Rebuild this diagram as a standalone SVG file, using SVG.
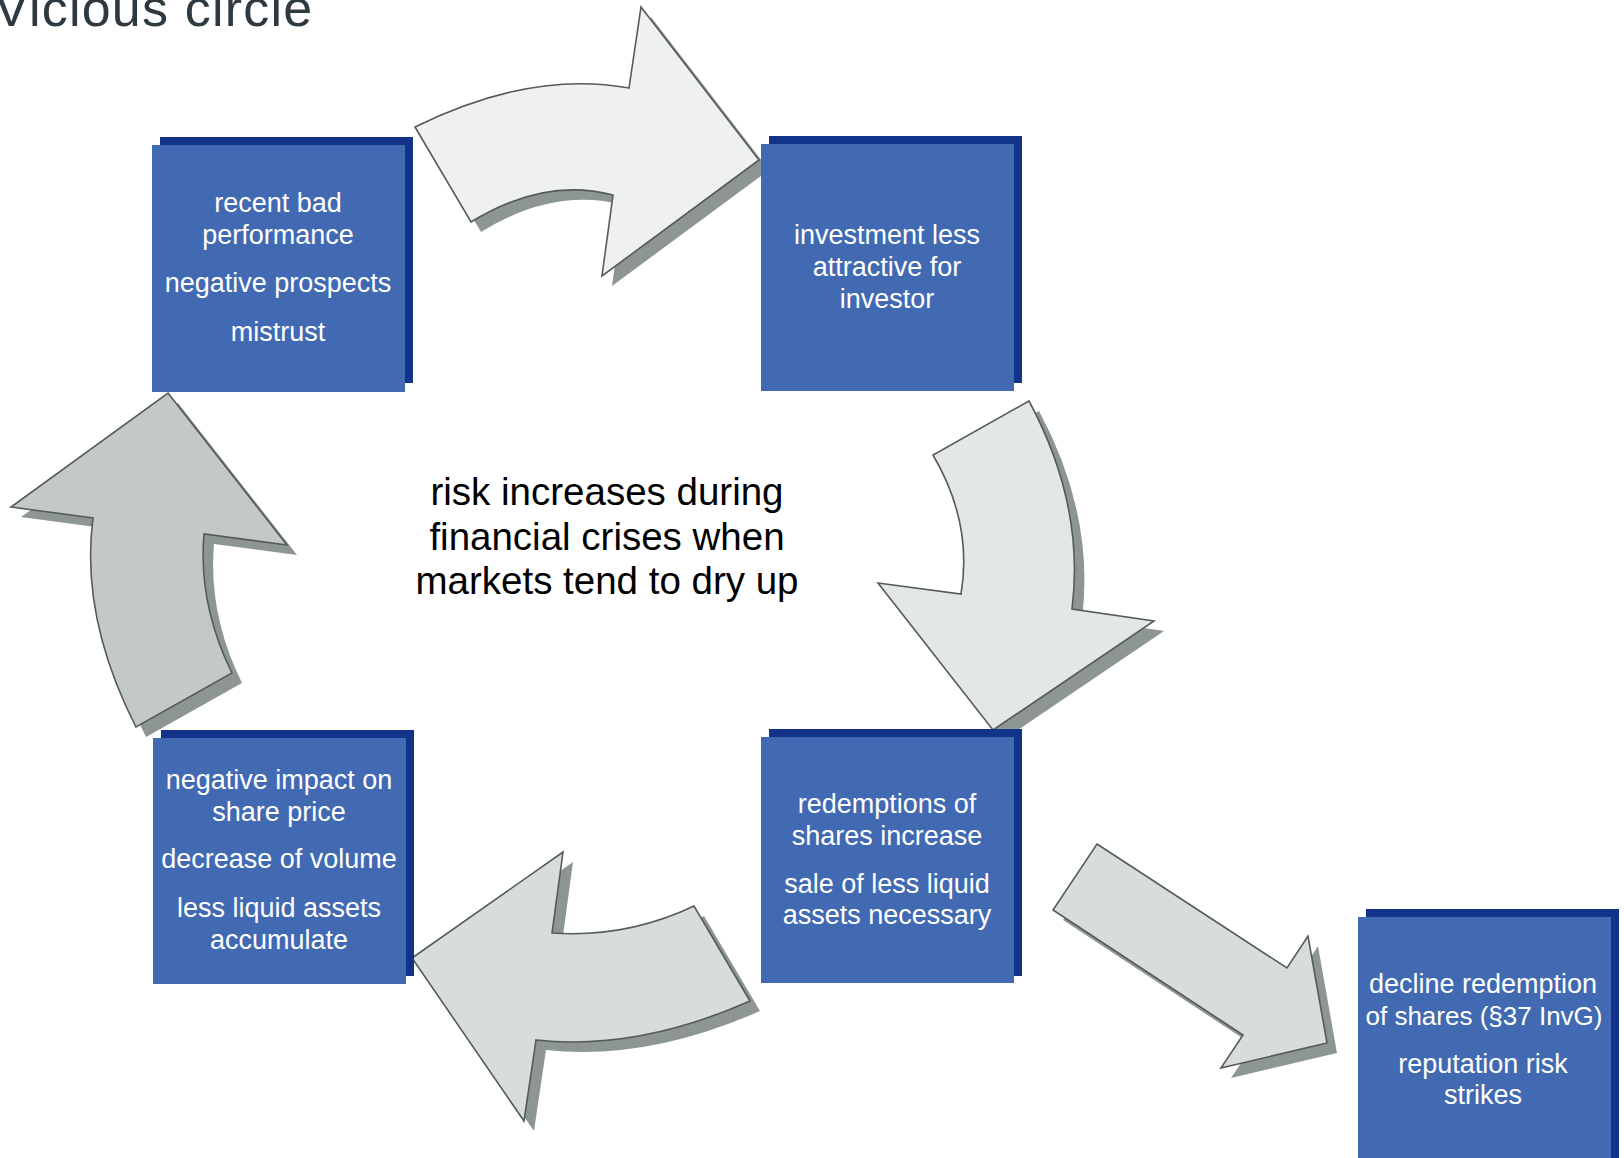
<svg xmlns="http://www.w3.org/2000/svg" width="1624" height="1158" viewBox="0 0 1624 1158">
<style>
.shadow{fill:#8e9695;stroke:none}
.arrow{stroke:#555a5a;stroke-width:1.6;stroke-linejoin:miter}
.bshadow{fill:#12338a}
.box{fill:#426ab2}
.nt{font-family:"Liberation Sans",Arial,sans-serif;font-size:27px;fill:#ffffff;text-anchor:middle}
.ct{font-family:"Liberation Sans",Arial,sans-serif;font-size:38.5px;fill:#000000;text-anchor:middle}
.title{font-family:"Liberation Sans",Arial,sans-serif;font-size:52px;fill:#2f3a40;letter-spacing:1.2px}
</style>
<defs>
<path id="a1" d="M415,127 Q530,70 629,88 L641,7 L759,160 L602,276 L613,195 Q544,177 471,222 Z"/>
<path id="a2" d="M1029,401 L933,455 Q973,523 961,594 L878,583 L993,730 L1154,621 L1072,609 Q1085,505 1029,401 Z"/>
<path id="a3" d="M563,852 L552,933 Q627,938 694,906 L750,1001 Q637,1051 536,1040 L524,1121 L412,958 Z"/>
<path id="a4" d="M168,393 L287,545 L204,534 Q198,604 232,673 L136,727 Q80,617 93,518 L11,507 Z"/>
<path id="a5" d="M1097,844 L1287,968 L1308,936 L1327,1043 L1221,1068 L1243,1035 L1053,910 Z"/>
</defs>
<rect x="0" y="0" width="1624" height="1158" fill="#ffffff"/>
<text class="title" x="-6" y="26">Vicious circle</text>
<g id="connectors">
<g id="arrow1"><use href="#a1" class="shadow" transform="translate(10,10)"/><use href="#a1" class="arrow" fill="#eff1f0"/></g>
<g id="arrow2"><use href="#a2" class="shadow" transform="translate(10,10)"/><use href="#a2" class="arrow" fill="#e3e7e8"/></g>
<g id="arrow3"><use href="#a3" class="shadow" transform="translate(10,10)"/><use href="#a3" class="arrow" fill="#d7dddd"/></g>
<g id="arrow4"><use href="#a4" class="shadow" transform="translate(10,10)"/><use href="#a4" class="arrow" fill="#c3c9c9"/></g>
<g id="arrow5"><use href="#a5" class="shadow" transform="translate(10,10)"/><use href="#a5" class="arrow" fill="#d7dddd"/></g>
</g>
<g id="center">
<text class="ct" x="607" y="505">risk increases during</text>
<text class="ct" x="607" y="549.5">financial crises when</text>
<text class="ct" x="607" y="594">markets tend to dry up</text>
</g>
<g id="node1">
<rect class="bshadow" x="160" y="137" width="253" height="246"/>
<rect class="box" x="152" y="145" width="253" height="247"/>
<text class="nt" x="278" y="212">recent bad</text>
<text class="nt" x="278" y="244">performance</text>
<text class="nt" x="278" y="292">negative prospects</text>
<text class="nt" x="278" y="341">mistrust</text>
</g>
<g id="node2">
<rect class="bshadow" x="769" y="136" width="253" height="247"/>
<rect class="box" x="761" y="144" width="253" height="247"/>
<text class="nt" x="887" y="244">investment less</text>
<text class="nt" x="887" y="276">attractive for</text>
<text class="nt" x="887" y="308">investor</text>
</g>
<g id="node3">
<rect class="bshadow" x="161" y="730" width="253" height="246"/>
<rect class="box" x="153" y="738" width="253" height="246"/>
<text class="nt" x="279" y="789">negative impact on</text>
<text class="nt" x="279" y="821">share price</text>
<text class="nt" x="279" y="868">decrease of volume</text>
<text class="nt" x="279" y="917">less liquid assets</text>
<text class="nt" x="279" y="949">accumulate</text>
</g>
<g id="node4">
<rect class="bshadow" x="769" y="729" width="253" height="247"/>
<rect class="box" x="761" y="737" width="253" height="246"/>
<text class="nt" x="887" y="813">redemptions of</text>
<text class="nt" x="887" y="845">shares increase</text>
<text class="nt" x="887" y="893">sale of less liquid</text>
<text class="nt" x="887" y="924">assets necessary</text>
</g>
<g id="node5">
<rect class="bshadow" x="1366" y="909" width="253" height="260"/>
<rect class="box" x="1358" y="917" width="253" height="260"/>
<text class="nt" x="1483" y="993">decline redemption</text>
<text class="nt" x="1484" y="1025" style="font-size:26px">of shares (§37 InvG)</text>
<text class="nt" x="1483" y="1073">reputation risk</text>
<text class="nt" x="1483" y="1104">strikes</text>
</g>
</svg>
